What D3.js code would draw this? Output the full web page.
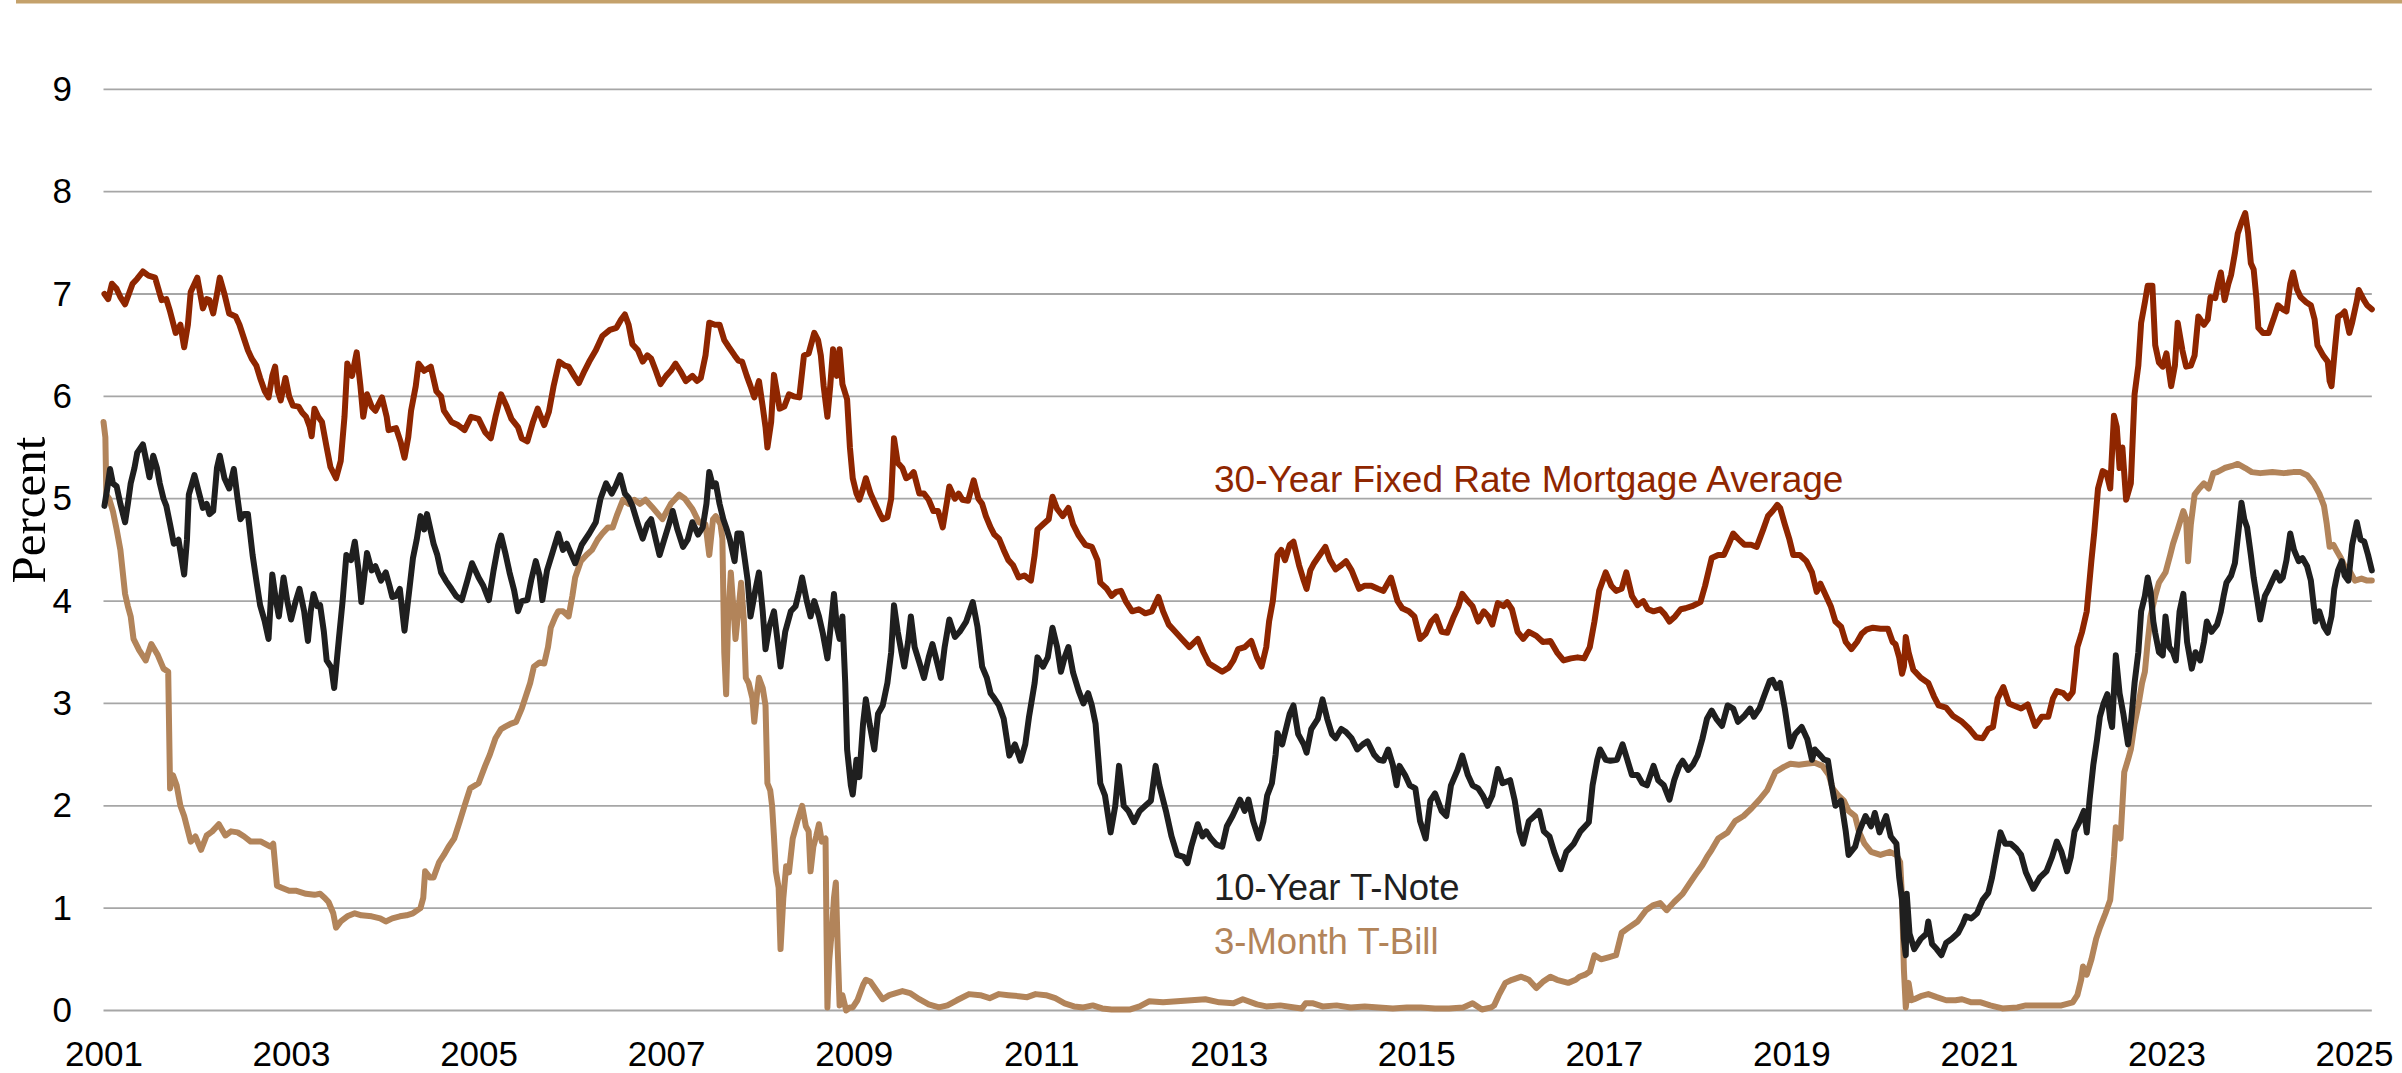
<!DOCTYPE html>
<html>
<head>
<meta charset="utf-8">
<script src="https://cdn.jsdelivr.net/npm/d3@7"></script>
<style>
  html, body { margin: 0; padding: 0; background: #fff; }
  svg { display: block; }
</style>
</head>
<body>
<script>
var width = 2402, height = 1073;

// tick labels
var yTicks = [0, 1, 2, 3, 4, 5, 6, 7, 8, 9];
var xTickYears = [2001, 2003, 2005, 2007, 2009, 2011, 2013, 2015, 2017, 2019, 2021, 2023, 2025];

var seriesNames = ["30-Year Fixed Rate Mortgage Average", "10-Year T-Note", "3-Month T-Bill"];

// [decimal year, percent]
var mortgage = [
  [2001.01,7.0],[2001.05,6.95],[2001.09,7.1],[2001.14,7.05],[2001.18,6.97],[2001.23,6.9],[2001.27,7.0],[2001.31,7.1],
  [2001.36,7.15],[2001.42,7.22],[2001.48,7.18],[2001.55,7.16],[2001.62,6.94],[2001.67,6.95],[2001.71,6.83],[2001.77,6.62],
  [2001.82,6.7],[2001.86,6.48],[2001.9,6.7],[2001.93,7.02],[2002.0,7.16],[2002.06,6.86],[2002.1,6.95],[2002.13,6.94],
  [2002.17,6.81],[2002.21,7.0],[2002.24,7.16],[2002.29,7.0],[2002.34,6.81],[2002.41,6.78],[2002.45,6.7],[2002.5,6.56],
  [2002.54,6.45],[2002.58,6.37],[2002.63,6.3],[2002.67,6.18],[2002.72,6.05],[2002.76,5.99],[2002.8,6.2],[2002.83,6.29],
  [2002.86,6.05],[2002.89,5.96],[2002.94,6.18],[2002.98,6.0],[2003.02,5.91],[2003.08,5.9],[2003.12,5.84],[2003.16,5.8],
  [2003.2,5.7],[2003.22,5.61],[2003.25,5.88],[2003.29,5.8],[2003.33,5.75],[2003.38,5.5],[2003.42,5.31],[2003.48,5.2],
  [2003.53,5.37],[2003.57,5.8],[2003.6,6.32],[2003.65,6.2],[2003.7,6.43],[2003.74,6.1],[2003.77,5.8],[2003.81,6.02],
  [2003.86,5.9],[2003.9,5.86],[2003.97,5.99],[2004.02,5.8],[2004.04,5.67],[2004.12,5.69],[2004.17,5.55],[2004.21,5.4],
  [2004.25,5.6],[2004.28,5.86],[2004.33,6.1],[2004.36,6.32],[2004.42,6.25],[2004.49,6.29],[2004.55,6.05],[2004.6,6.0],
  [2004.63,5.86],[2004.71,5.75],[2004.78,5.72],[2004.85,5.67],[2004.92,5.8],[2005.0,5.78],[2005.07,5.65],[2005.13,5.59],
  [2005.18,5.8],[2005.24,6.02],[2005.3,5.9],[2005.35,5.78],[2005.42,5.7],[2005.46,5.59],[2005.52,5.56],[2005.58,5.75],
  [2005.63,5.88],[2005.7,5.72],[2005.75,5.85],[2005.8,6.1],[2005.86,6.34],[2005.92,6.3],[2005.96,6.29],[2006.02,6.2],
  [2006.07,6.13],[2006.13,6.25],[2006.18,6.34],[2006.25,6.45],[2006.32,6.59],[2006.4,6.65],[2006.47,6.67],[2006.52,6.75],
  [2006.56,6.8],[2006.6,6.7],[2006.64,6.51],[2006.7,6.45],[2006.75,6.34],[2006.8,6.4],[2006.84,6.37],[2006.89,6.25],
  [2006.94,6.12],[2007.0,6.2],[2007.05,6.25],[2007.1,6.32],[2007.15,6.25],[2007.21,6.15],[2007.28,6.2],[2007.33,6.15],
  [2007.37,6.18],[2007.42,6.4],[2007.46,6.72],[2007.52,6.7],[2007.57,6.7],[2007.62,6.55],[2007.67,6.48],[2007.73,6.4],
  [2007.77,6.35],[2007.81,6.34],[2007.86,6.2],[2007.9,6.1],[2007.94,5.99],[2007.99,6.15],[2008.03,5.9],[2008.06,5.7],
  [2008.08,5.5],[2008.12,5.75],[2008.15,6.21],[2008.18,6.05],[2008.21,5.88],[2008.26,5.9],[2008.31,6.02],[2008.36,6.0],
  [2008.42,5.99],[2008.47,6.4],[2008.52,6.42],[2008.58,6.62],[2008.62,6.55],[2008.65,6.4],[2008.68,6.1],[2008.72,5.8],
  [2008.75,6.1],[2008.78,6.46],[2008.82,6.2],[2008.85,6.46],[2008.88,6.12],[2008.93,5.97],[2008.96,5.5],[2008.99,5.2],
  [2009.03,5.05],[2009.06,4.99],[2009.1,5.1],[2009.13,5.2],[2009.18,5.05],[2009.24,4.93],[2009.28,4.85],[2009.31,4.8],
  [2009.36,4.82],[2009.4,5.0],[2009.43,5.59],[2009.47,5.35],[2009.52,5.3],[2009.56,5.2],[2009.6,5.22],[2009.64,5.26],
  [2009.7,5.05],[2009.75,5.05],[2009.8,4.99],[2009.85,4.88],[2009.9,4.88],[2009.95,4.72],[2010.0,5.0],[2010.02,5.12],
  [2010.08,5.0],[2010.12,5.05],[2010.16,4.99],[2010.22,4.98],[2010.28,5.18],[2010.33,5.0],[2010.37,4.95],[2010.41,4.83],
  [2010.46,4.72],[2010.5,4.65],[2010.55,4.61],[2010.6,4.5],[2010.65,4.4],[2010.7,4.35],[2010.76,4.23],[2010.82,4.25],
  [2010.89,4.2],[2010.93,4.45],[2010.96,4.7],[2011.02,4.75],[2011.08,4.8],[2011.12,5.02],[2011.17,4.9],[2011.23,4.83],
  [2011.29,4.91],[2011.34,4.75],[2011.4,4.64],[2011.47,4.55],[2011.54,4.53],[2011.6,4.4],[2011.63,4.18],[2011.7,4.12],
  [2011.75,4.05],[2011.8,4.09],[2011.85,4.1],[2011.9,4.0],[2011.97,3.9],[2012.04,3.92],[2012.11,3.88],[2012.18,3.9],
  [2012.25,4.04],[2012.3,3.9],[2012.36,3.77],[2012.43,3.7],[2012.5,3.63],[2012.58,3.55],[2012.67,3.63],[2012.73,3.5],
  [2012.79,3.39],[2012.86,3.35],[2012.93,3.31],[2013.0,3.35],[2013.05,3.42],[2013.1,3.53],[2013.17,3.55],[2013.24,3.61],
  [2013.3,3.45],[2013.35,3.36],[2013.4,3.55],[2013.43,3.8],[2013.47,4.0],[2013.52,4.45],[2013.56,4.5],[2013.6,4.4],
  [2013.65,4.55],[2013.69,4.58],[2013.75,4.35],[2013.8,4.2],[2013.83,4.12],[2013.87,4.3],[2013.91,4.37],[2013.97,4.45],
  [2014.03,4.53],[2014.08,4.4],[2014.14,4.31],[2014.2,4.35],[2014.25,4.39],[2014.31,4.3],[2014.39,4.12],[2014.45,4.15],
  [2014.52,4.15],[2014.59,4.12],[2014.65,4.1],[2014.73,4.23],[2014.8,4.0],[2014.85,3.93],[2014.92,3.9],[2014.98,3.85],
  [2015.04,3.63],[2015.1,3.68],[2015.16,3.8],[2015.21,3.85],[2015.27,3.7],[2015.33,3.69],[2015.4,3.85],[2015.45,3.95],
  [2015.49,4.07],[2015.55,4.0],[2015.6,3.95],[2015.66,3.8],[2015.72,3.9],[2015.77,3.85],[2015.81,3.77],[2015.87,3.98],
  [2015.93,3.95],[2015.97,3.99],[2016.02,3.92],[2016.08,3.7],[2016.14,3.63],[2016.2,3.7],[2016.28,3.66],[2016.35,3.6],
  [2016.43,3.61],[2016.5,3.5],[2016.57,3.42],[2016.65,3.44],[2016.72,3.45],[2016.79,3.44],[2016.85,3.55],[2016.9,3.8],
  [2016.95,4.1],[2017.02,4.28],[2017.08,4.15],[2017.13,4.1],[2017.19,4.12],[2017.24,4.28],[2017.3,4.05],[2017.36,3.96],
  [2017.42,4.0],[2017.47,3.92],[2017.53,3.9],[2017.6,3.92],[2017.65,3.87],[2017.7,3.8],[2017.76,3.85],[2017.82,3.92],
  [2017.87,3.93],[2017.94,3.95],[2018.03,3.99],[2018.08,4.15],[2018.15,4.42],[2018.22,4.45],[2018.28,4.45],[2018.32,4.53],
  [2018.38,4.66],[2018.43,4.61],[2018.5,4.55],[2018.57,4.55],[2018.63,4.53],[2018.7,4.7],[2018.75,4.83],[2018.8,4.88],
  [2018.85,4.94],[2018.88,4.91],[2018.93,4.75],[2018.98,4.6],[2019.02,4.45],[2019.09,4.45],[2019.16,4.39],[2019.22,4.28],
  [2019.27,4.09],[2019.31,4.17],[2019.36,4.07],[2019.42,3.95],[2019.47,3.8],[2019.53,3.75],[2019.58,3.6],[2019.64,3.53],
  [2019.7,3.6],[2019.75,3.68],[2019.8,3.72],[2019.87,3.74],[2019.95,3.73],[2020.03,3.73],[2020.08,3.6],[2020.11,3.58],
  [2020.15,3.45],[2020.18,3.29],[2020.2,3.36],[2020.22,3.65],[2020.25,3.5],[2020.3,3.33],[2020.38,3.25],[2020.46,3.2],
  [2020.52,3.07],[2020.57,2.98],[2020.65,2.96],[2020.72,2.88],[2020.82,2.82],[2020.9,2.75],[2020.97,2.67],[2021.04,2.66],
  [2021.1,2.75],[2021.15,2.77],[2021.2,3.05],[2021.26,3.16],[2021.32,3.0],[2021.37,2.98],[2021.45,2.95],[2021.52,2.99],
  [2021.6,2.78],[2021.67,2.87],[2021.74,2.87],[2021.79,3.05],[2021.83,3.12],[2021.9,3.1],[2021.95,3.05],[2022.0,3.11],
  [2022.05,3.55],[2022.1,3.7],[2022.15,3.9],[2022.2,4.4],[2022.23,4.67],[2022.27,5.1],[2022.32,5.27],[2022.36,5.25],
  [2022.4,5.1],[2022.44,5.81],[2022.47,5.7],[2022.5,5.3],[2022.53,5.5],[2022.57,4.99],[2022.62,5.15],[2022.66,6.02],
  [2022.7,6.3],[2022.73,6.72],[2022.77,6.92],[2022.8,7.08],[2022.85,7.08],[2022.88,6.5],[2022.92,6.33],[2022.96,6.29],
  [2023.0,6.42],[2023.05,6.1],[2023.09,6.3],[2023.12,6.72],[2023.17,6.45],[2023.21,6.29],[2023.26,6.3],[2023.3,6.4],
  [2023.34,6.78],[2023.4,6.7],[2023.44,6.75],[2023.47,6.97],[2023.52,6.96],[2023.55,7.1],[2023.58,7.21],[2023.62,6.94],
  [2023.66,7.1],[2023.69,7.19],[2023.73,7.4],[2023.76,7.59],[2023.8,7.7],[2023.84,7.79],[2023.87,7.6],[2023.9,7.3],
  [2023.93,7.24],[2023.96,6.95],[2023.98,6.67],[2024.03,6.62],[2024.09,6.62],[2024.14,6.75],[2024.19,6.89],[2024.24,6.85],
  [2024.28,6.83],[2024.32,7.1],[2024.35,7.21],[2024.39,7.05],[2024.43,6.97],[2024.49,6.92],[2024.54,6.89],[2024.58,6.75],
  [2024.61,6.5],[2024.67,6.4],[2024.72,6.34],[2024.74,6.15],[2024.76,6.1],[2024.8,6.5],[2024.83,6.78],[2024.87,6.8],
  [2024.9,6.83],[2024.95,6.62],[2024.98,6.72],[2025.03,6.93],[2025.05,7.04],[2025.1,6.95],[2025.14,6.89],[2025.19,6.85]
];

var tnote = [
  [2001.01,4.93],[2001.04,5.1],[2001.07,5.29],[2001.1,5.15],[2001.14,5.12],[2001.18,4.95],[2001.23,4.77],[2001.26,4.95],
  [2001.29,5.15],[2001.33,5.3],[2001.36,5.45],[2001.42,5.53],[2001.45,5.4],[2001.49,5.21],[2001.53,5.42],[2001.57,5.3],
  [2001.6,5.15],[2001.64,5.0],[2001.67,4.93],[2001.71,4.75],[2001.75,4.56],[2001.8,4.6],[2001.86,4.26],[2001.89,4.6],
  [2001.91,5.04],[2001.97,5.23],[2002.02,5.05],[2002.06,4.91],[2002.1,4.95],[2002.13,4.85],[2002.17,4.88],[2002.21,5.3],
  [2002.24,5.42],[2002.29,5.2],[2002.34,5.1],[2002.39,5.29],[2002.43,5.0],[2002.46,4.8],[2002.5,4.85],[2002.54,4.85],
  [2002.59,4.45],[2002.63,4.2],[2002.67,3.96],[2002.72,3.8],[2002.76,3.63],[2002.8,4.26],[2002.84,4.0],[2002.87,3.85],
  [2002.92,4.23],[2002.96,4.0],[2003.0,3.82],[2003.05,4.0],[2003.09,4.12],[2003.14,3.9],[2003.18,3.61],[2003.21,3.9],
  [2003.24,4.07],[2003.28,3.95],[2003.31,3.96],[2003.35,3.7],[2003.38,3.42],[2003.43,3.35],[2003.46,3.15],[2003.51,3.63],
  [2003.55,4.0],[2003.59,4.45],[2003.64,4.4],[2003.68,4.58],[2003.72,4.3],[2003.75,3.99],[2003.81,4.47],[2003.86,4.3],
  [2003.9,4.34],[2003.96,4.2],[2004.01,4.28],[2004.05,4.15],[2004.08,4.04],[2004.12,4.05],[2004.16,4.12],[2004.21,3.71],
  [2004.26,4.1],[2004.3,4.42],[2004.34,4.6],[2004.38,4.83],[2004.42,4.7],[2004.45,4.85],[2004.52,4.56],[2004.56,4.45],
  [2004.6,4.28],[2004.65,4.2],[2004.71,4.12],[2004.76,4.05],[2004.82,4.01],[2004.88,4.2],[2004.93,4.37],[2005.0,4.23],
  [2005.05,4.15],[2005.11,4.01],[2005.16,4.3],[2005.21,4.55],[2005.24,4.64],[2005.29,4.45],[2005.33,4.28],[2005.38,4.1],
  [2005.42,3.9],[2005.46,4.0],[2005.52,4.01],[2005.56,4.2],[2005.61,4.39],[2005.65,4.25],[2005.68,4.01],[2005.73,4.3],
  [2005.78,4.45],[2005.85,4.66],[2005.9,4.5],[2005.94,4.56],[2006.03,4.37],[2006.1,4.55],[2006.18,4.66],[2006.25,4.77],
  [2006.3,5.0],[2006.36,5.15],[2006.42,5.05],[2006.46,5.12],[2006.51,5.23],[2006.56,5.05],[2006.6,5.01],[2006.64,4.93],
  [2006.7,4.75],[2006.75,4.61],[2006.8,4.75],[2006.84,4.8],[2006.89,4.6],[2006.93,4.45],[2006.98,4.6],[2007.03,4.75],
  [2007.07,4.88],[2007.12,4.7],[2007.18,4.53],[2007.23,4.6],[2007.28,4.77],[2007.34,4.65],[2007.39,4.72],[2007.43,4.95],
  [2007.46,5.26],[2007.5,5.12],[2007.53,5.15],[2007.57,4.95],[2007.61,4.8],[2007.64,4.72],[2007.68,4.6],[2007.73,4.39],
  [2007.76,4.66],[2007.8,4.66],[2007.84,4.4],[2007.87,4.2],[2007.9,3.85],[2007.95,4.1],[2007.99,4.28],[2008.03,3.9],
  [2008.06,3.53],[2008.1,3.75],[2008.15,3.9],[2008.19,3.6],[2008.22,3.36],[2008.27,3.7],[2008.33,3.9],[2008.38,3.95],
  [2008.42,4.1],[2008.45,4.23],[2008.5,4.0],[2008.54,3.85],[2008.58,4.0],[2008.63,3.85],[2008.67,3.69],[2008.72,3.44],
  [2008.76,3.8],[2008.79,4.07],[2008.82,3.75],[2008.85,3.63],[2008.88,3.85],[2008.91,3.2],[2008.93,2.55],[2008.97,2.2],
  [2008.99,2.11],[2009.03,2.45],[2009.06,2.28],[2009.1,2.8],[2009.13,3.04],[2009.17,2.8],[2009.22,2.55],[2009.26,2.9],
  [2009.31,2.98],[2009.36,3.2],[2009.4,3.5],[2009.43,3.96],[2009.47,3.7],[2009.51,3.5],[2009.54,3.36],[2009.58,3.6],
  [2009.61,3.85],[2009.65,3.55],[2009.7,3.4],[2009.75,3.25],[2009.8,3.45],[2009.84,3.58],[2009.89,3.4],[2009.93,3.25],
  [2009.97,3.55],[2010.02,3.82],[2010.08,3.65],[2010.13,3.7],[2010.2,3.8],[2010.27,3.99],[2010.32,3.75],[2010.37,3.36],
  [2010.42,3.25],[2010.46,3.1],[2010.5,3.05],[2010.55,2.98],[2010.6,2.85],[2010.66,2.49],[2010.72,2.6],[2010.78,2.44],
  [2010.83,2.6],[2010.87,2.87],[2010.93,3.2],[2010.96,3.45],[2011.02,3.36],[2011.07,3.45],[2011.12,3.74],[2011.17,3.55],
  [2011.21,3.31],[2011.25,3.45],[2011.29,3.55],[2011.34,3.3],[2011.4,3.12],[2011.45,3.0],[2011.5,3.1],[2011.54,2.98],
  [2011.58,2.8],[2011.63,2.22],[2011.68,2.1],[2011.74,1.74],[2011.79,2.0],[2011.83,2.39],[2011.88,2.0],[2011.93,1.95],
  [2011.99,1.84],[2012.05,1.95],[2012.11,2.0],[2012.17,2.05],[2012.22,2.39],[2012.26,2.2],[2012.33,1.95],[2012.39,1.7],
  [2012.45,1.52],[2012.52,1.5],[2012.56,1.44],[2012.6,1.6],[2012.67,1.82],[2012.72,1.7],[2012.76,1.75],[2012.81,1.68],
  [2012.87,1.62],[2012.93,1.6],[2012.98,1.8],[2013.04,1.9],[2013.12,2.06],[2013.17,1.95],[2013.21,2.06],[2013.26,1.85],
  [2013.32,1.68],[2013.37,1.85],[2013.41,2.1],[2013.46,2.22],[2013.5,2.5],[2013.52,2.71],[2013.57,2.6],[2013.61,2.75],
  [2013.65,2.9],[2013.69,2.98],[2013.74,2.7],[2013.8,2.6],[2013.83,2.52],[2013.88,2.75],[2013.95,2.85],[2014.0,3.04],
  [2014.05,2.85],[2014.1,2.7],[2014.14,2.66],[2014.2,2.75],[2014.25,2.72],[2014.31,2.66],[2014.37,2.55],[2014.43,2.6],
  [2014.48,2.63],[2014.55,2.5],[2014.6,2.45],[2014.65,2.44],[2014.7,2.55],[2014.75,2.4],[2014.79,2.2],[2014.82,2.39],
  [2014.88,2.3],[2014.93,2.2],[2014.99,2.17],[2015.04,1.85],[2015.1,1.68],[2015.15,2.05],[2015.2,2.12],[2015.27,1.95],
  [2015.32,1.9],[2015.37,2.2],[2015.44,2.35],[2015.49,2.49],[2015.55,2.3],[2015.6,2.2],[2015.66,2.17],[2015.71,2.1],
  [2015.76,2.0],[2015.81,2.1],[2015.87,2.36],[2015.92,2.22],[2016.0,2.25],[2016.05,2.05],[2016.1,1.75],[2016.14,1.63],
  [2016.2,1.85],[2016.26,1.9],[2016.31,1.95],[2016.36,1.75],[2016.42,1.7],[2016.47,1.55],[2016.51,1.45],[2016.54,1.38],
  [2016.6,1.55],[2016.68,1.63],[2016.75,1.75],[2016.84,1.84],[2016.88,2.2],[2016.93,2.45],[2016.96,2.55],[2017.02,2.45],
  [2017.07,2.44],[2017.14,2.45],[2017.2,2.6],[2017.25,2.45],[2017.3,2.3],[2017.36,2.3],[2017.41,2.22],[2017.46,2.2],
  [2017.53,2.39],[2017.58,2.25],[2017.64,2.2],[2017.7,2.06],[2017.75,2.25],[2017.8,2.38],[2017.84,2.44],[2017.9,2.35],
  [2017.95,2.4],[2018.0,2.49],[2018.05,2.65],[2018.1,2.85],[2018.15,2.93],[2018.2,2.85],[2018.26,2.78],[2018.32,2.98],
  [2018.38,2.95],[2018.43,2.82],[2018.5,2.88],[2018.56,2.95],[2018.6,2.87],[2018.66,2.95],[2018.72,3.1],[2018.77,3.22],
  [2018.8,3.23],[2018.84,3.15],[2018.88,3.2],[2018.93,2.95],[2018.99,2.58],[2019.04,2.7],[2019.11,2.77],[2019.17,2.65],
  [2019.22,2.45],[2019.25,2.55],[2019.3,2.5],[2019.35,2.45],[2019.39,2.44],[2019.43,2.2],[2019.47,2.0],[2019.53,2.05],
  [2019.58,1.75],[2019.61,1.52],[2019.68,1.6],[2019.72,1.74],[2019.79,1.9],[2019.85,1.8],[2019.89,1.93],[2019.94,1.74],
  [2020.01,1.9],[2020.06,1.7],[2020.12,1.63],[2020.15,1.3],[2020.18,1.08],[2020.2,0.7],[2020.22,0.54],[2020.23,1.14],
  [2020.26,0.75],[2020.31,0.6],[2020.38,0.7],[2020.44,0.75],[2020.46,0.87],[2020.5,0.65],[2020.55,0.6],[2020.6,0.54],
  [2020.65,0.66],[2020.71,0.7],[2020.78,0.76],[2020.83,0.85],[2020.86,0.92],[2020.92,0.9],[2020.98,0.95],[2021.04,1.08],
  [2021.1,1.15],[2021.14,1.3],[2021.18,1.5],[2021.23,1.74],[2021.28,1.63],[2021.34,1.63],[2021.4,1.58],[2021.45,1.52],
  [2021.5,1.35],[2021.55,1.25],[2021.58,1.19],[2021.65,1.3],[2021.72,1.36],[2021.78,1.5],[2021.83,1.65],[2021.88,1.55],
  [2021.94,1.36],[2021.98,1.5],[2022.02,1.75],[2022.07,1.84],[2022.12,1.95],[2022.15,1.74],[2022.18,2.06],[2022.22,2.4],
  [2022.26,2.65],[2022.29,2.87],[2022.33,3.0],[2022.37,3.09],[2022.4,2.85],[2022.42,2.77],[2022.46,3.47],[2022.5,3.1],
  [2022.54,2.9],[2022.59,2.6],[2022.62,2.8],[2022.66,3.2],[2022.7,3.5],[2022.73,3.9],[2022.77,4.05],[2022.8,4.23],
  [2022.83,4.1],[2022.86,3.8],[2022.88,3.69],[2022.92,3.5],[2022.96,3.47],[2022.99,3.85],[2023.03,3.55],[2023.07,3.5],
  [2023.1,3.42],[2023.14,3.9],[2023.18,4.07],[2023.22,3.6],[2023.27,3.34],[2023.31,3.5],[2023.36,3.42],[2023.4,3.6],
  [2023.43,3.8],[2023.48,3.7],[2023.54,3.77],[2023.58,3.9],[2023.61,4.05],[2023.64,4.18],[2023.69,4.25],[2023.73,4.37],
  [2023.77,4.7],[2023.8,4.96],[2023.83,4.8],[2023.86,4.72],[2023.9,4.45],[2023.93,4.23],[2023.97,4.0],[2024.0,3.82],
  [2024.05,4.05],[2024.09,4.12],[2024.13,4.2],[2024.17,4.28],[2024.21,4.2],[2024.24,4.23],[2024.28,4.4],[2024.32,4.66],
  [2024.36,4.5],[2024.41,4.39],[2024.45,4.42],[2024.5,4.34],[2024.54,4.2],[2024.59,3.8],[2024.63,3.9],[2024.68,3.75],
  [2024.72,3.69],[2024.76,3.85],[2024.79,4.12],[2024.83,4.3],[2024.87,4.39],[2024.9,4.25],[2024.94,4.2],[2024.98,4.55],
  [2025.03,4.77],[2025.07,4.6],[2025.11,4.58],[2025.15,4.45],[2025.19,4.3]
];

var tbill = [
  [2001.0,5.75],[2001.02,5.6],[2001.03,5.04],[2001.06,5.0],[2001.1,4.88],[2001.14,4.7],[2001.18,4.5],[2001.23,4.07],
  [2001.26,3.95],[2001.29,3.85],[2001.32,3.63],[2001.38,3.52],[2001.45,3.42],[2001.51,3.58],[2001.58,3.47],[2001.64,3.34],
  [2001.69,3.31],[2001.71,2.17],[2001.74,2.3],[2001.78,2.2],[2001.82,2.0],[2001.86,1.9],[2001.93,1.65],[2001.98,1.7],
  [2002.04,1.57],[2002.1,1.71],[2002.16,1.75],[2002.23,1.82],[2002.3,1.71],[2002.36,1.75],[2002.43,1.74],[2002.5,1.7],
  [2002.57,1.65],[2002.68,1.65],[2002.78,1.6],[2002.81,1.63],[2002.85,1.22],[2002.9,1.2],[2002.98,1.17],[2003.05,1.17],
  [2003.16,1.14],[2003.25,1.13],[2003.31,1.14],[2003.36,1.1],[2003.4,1.06],[2003.45,0.95],[2003.48,0.81],[2003.53,0.87],
  [2003.6,0.92],[2003.68,0.95],[2003.75,0.93],[2003.86,0.92],[2003.95,0.9],[2004.01,0.87],[2004.08,0.9],[2004.16,0.92],
  [2004.23,0.93],[2004.3,0.95],[2004.38,1.0],[2004.41,1.1],[2004.43,1.36],[2004.48,1.3],[2004.52,1.3],[2004.58,1.45],
  [2004.63,1.52],[2004.68,1.6],[2004.74,1.68],[2004.8,1.85],[2004.85,2.0],[2004.91,2.17],[2005.0,2.22],[2005.07,2.39],
  [2005.12,2.5],[2005.18,2.66],[2005.24,2.75],[2005.28,2.77],[2005.34,2.8],[2005.4,2.82],[2005.46,2.95],[2005.5,3.06],
  [2005.55,3.2],[2005.59,3.36],[2005.65,3.4],[2005.7,3.39],[2005.74,3.55],[2005.77,3.74],[2005.82,3.85],[2005.85,3.9],
  [2005.9,3.9],[2005.96,3.85],[2006.0,4.05],[2006.03,4.23],[2006.09,4.39],[2006.15,4.45],[2006.21,4.5],[2006.27,4.6],
  [2006.32,4.66],[2006.38,4.72],[2006.43,4.72],[2006.48,4.85],[2006.54,4.99],[2006.6,4.95],[2006.66,4.99],[2006.72,4.95],
  [2006.78,4.99],[2006.85,4.92],[2006.96,4.8],[2007.05,4.95],[2007.14,5.04],[2007.2,5.0],[2007.28,4.9],[2007.35,4.77],
  [2007.42,4.75],[2007.46,4.45],[2007.5,4.8],[2007.53,4.83],[2007.58,4.75],[2007.6,4.61],[2007.62,3.5],[2007.64,3.09],
  [2007.66,3.8],[2007.69,4.28],[2007.72,3.9],[2007.74,3.63],[2007.77,3.9],[2007.8,4.18],[2007.83,3.8],[2007.85,3.25],
  [2007.88,3.2],[2007.92,3.05],[2007.94,2.82],[2007.97,3.1],[2007.99,3.25],[2008.03,3.15],[2008.06,2.98],[2008.08,2.22],
  [2008.11,2.15],[2008.13,2.0],[2008.15,1.7],[2008.17,1.36],[2008.2,1.2],[2008.22,0.6],[2008.25,1.1],[2008.28,1.41],
  [2008.31,1.35],[2008.35,1.68],[2008.4,1.85],[2008.45,2.0],[2008.49,1.8],[2008.52,1.75],[2008.54,1.36],[2008.57,1.6],
  [2008.6,1.7],[2008.63,1.82],[2008.66,1.65],[2008.7,1.68],[2008.71,0.8],[2008.72,0.03],[2008.74,0.5],[2008.77,0.81],
  [2008.79,1.1],[2008.81,1.25],[2008.83,0.6],[2008.85,0.05],[2008.88,0.15],[2008.92,0.0],[2008.96,0.03],[2008.99,0.03],
  [2009.04,0.1],[2009.1,0.25],[2009.13,0.3],[2009.18,0.28],[2009.24,0.2],[2009.31,0.11],[2009.38,0.15],[2009.45,0.17],
  [2009.52,0.19],[2009.6,0.17],[2009.7,0.11],[2009.8,0.06],[2009.91,0.03],[2010.0,0.05],[2010.1,0.1],[2010.23,0.16],
  [2010.35,0.15],[2010.45,0.12],[2010.55,0.16],[2010.65,0.15],[2010.76,0.14],[2010.85,0.13],[2010.94,0.16],[2011.05,0.15],
  [2011.15,0.12],[2011.25,0.07],[2011.35,0.04],[2011.45,0.03],[2011.55,0.05],[2011.65,0.02],[2011.75,0.01],[2011.85,0.01],
  [2011.95,0.01],[2012.05,0.04],[2012.15,0.09],[2012.3,0.08],[2012.45,0.09],[2012.6,0.1],[2012.75,0.11],[2012.9,0.08],
  [2013.05,0.07],[2013.15,0.11],[2013.3,0.06],[2013.4,0.04],[2013.55,0.05],[2013.7,0.03],[2013.78,0.02],[2013.82,0.07],
  [2013.9,0.07],[2014.0,0.04],[2014.15,0.05],[2014.3,0.03],[2014.45,0.04],[2014.6,0.03],[2014.75,0.02],[2014.9,0.03],
  [2015.05,0.03],[2015.2,0.02],[2015.35,0.02],[2015.5,0.03],[2015.6,0.07],[2015.7,0.01],[2015.8,0.03],[2015.83,0.05],
  [2015.88,0.15],[2015.95,0.27],[2016.02,0.3],[2016.12,0.33],[2016.2,0.3],[2016.28,0.22],[2016.35,0.28],[2016.43,0.33],
  [2016.5,0.3],[2016.62,0.27],[2016.7,0.3],[2016.74,0.33],[2016.8,0.35],[2016.85,0.38],[2016.9,0.54],[2016.97,0.5],
  [2017.05,0.52],[2017.13,0.54],[2017.19,0.76],[2017.25,0.8],[2017.36,0.87],[2017.45,0.98],[2017.53,1.03],[2017.6,1.05],
  [2017.67,0.98],[2017.75,1.06],[2017.84,1.14],[2017.92,1.25],[2017.98,1.33],[2018.05,1.42],[2018.1,1.5],[2018.15,1.57],
  [2018.22,1.68],[2018.32,1.74],[2018.4,1.85],[2018.49,1.9],[2018.58,1.98],[2018.66,2.06],[2018.74,2.15],[2018.83,2.33],
  [2018.92,2.38],[2018.99,2.41],[2019.08,2.4],[2019.16,2.41],[2019.25,2.42],[2019.33,2.39],[2019.4,2.3],[2019.44,2.17],
  [2019.5,2.1],[2019.56,2.05],[2019.61,1.95],[2019.68,1.9],[2019.72,1.75],[2019.78,1.63],[2019.85,1.55],[2019.95,1.52],
  [2020.05,1.55],[2020.12,1.52],[2020.16,1.45],[2020.18,1.1],[2020.2,0.4],[2020.22,0.03],[2020.25,0.27],[2020.28,0.1],
  [2020.31,0.11],[2020.38,0.14],[2020.46,0.16],[2020.55,0.13],[2020.65,0.1],[2020.75,0.1],[2020.82,0.11],[2020.92,0.08],
  [2021.02,0.08],[2021.12,0.05],[2021.25,0.02],[2021.41,0.03],[2021.5,0.05],[2021.63,0.05],[2021.75,0.05],[2021.88,0.05],
  [2022.0,0.08],[2022.05,0.15],[2022.09,0.3],[2022.11,0.43],[2022.15,0.35],[2022.2,0.5],[2022.25,0.7],[2022.29,0.81],
  [2022.35,0.95],[2022.4,1.08],[2022.44,1.5],[2022.46,1.79],[2022.51,1.68],[2022.55,2.33],[2022.59,2.45],[2022.62,2.55],
  [2022.66,2.8],[2022.7,2.98],[2022.74,3.2],[2022.77,3.31],[2022.8,3.6],[2022.83,3.85],[2022.88,4.05],[2022.92,4.18],
  [2022.99,4.28],[2023.04,4.45],[2023.07,4.56],[2023.12,4.7],[2023.18,4.88],[2023.21,4.8],[2023.23,4.39],[2023.26,4.75],
  [2023.3,5.04],[2023.35,5.1],[2023.4,5.15],[2023.45,5.1],[2023.5,5.25],[2023.54,5.26],[2023.62,5.3],[2023.7,5.32],
  [2023.76,5.34],[2023.84,5.3],[2023.91,5.26],[2024.0,5.25],[2024.13,5.26],[2024.25,5.25],[2024.35,5.26],[2024.43,5.26],
  [2024.5,5.23],[2024.57,5.15],[2024.63,5.05],[2024.68,4.93],[2024.71,4.75],[2024.74,4.53],[2024.78,4.55],[2024.81,4.5],
  [2024.86,4.42],[2024.9,4.34],[2024.95,4.3],[2025.01,4.2],[2025.08,4.22],[2025.14,4.2],[2025.19,4.2]
];

var colors = { mortgage: "#8f2600", tnote: "#1f1f1f", tbill: "#b2845a" };

var svg = d3.select("body").append("svg")
    .attr("width", width)
    .attr("height", height);

// gold rule across the top
svg.append("rect")
    .attr("x", 16).attr("y", 0)
    .attr("width", width - 16).attr("height", 3.5)
    .attr("fill", "#c4a16b");

var x = d3.scaleLinear().domain([2001, 2025]).range([103.5, 2354]);
var y = d3.scaleLinear().domain([0, 9]).range([1010.5, 89.3]);
var xEnd = x(2025.19);

// gridlines
svg.append("g")
  .selectAll("line")
  .data(yTicks)
  .join("line")
    .attr("x1", x(2001))
    .attr("x2", xEnd)
    .attr("y1", d => y(d))
    .attr("y2", d => y(d))
    .attr("stroke", "#a6a6a6")
    .attr("stroke-width", 1.8);

// y axis labels
var yAxis = svg.append("g")
    .attr("transform", "translate(72,0)")
    .call(d3.axisLeft(y).tickValues(yTicks).tickSize(0).tickPadding(0).tickFormat(d3.format("d")));
yAxis.select(".domain").remove();
yAxis.selectAll("text")
    .attr("font-family", "'Liberation Sans', Arial, sans-serif")
    .attr("font-size", 35)
    .attr("fill", "#000");

// x axis labels
var xAxis = svg.append("g")
    .attr("transform", "translate(0,1041)")
    .call(d3.axisBottom(x).tickValues(xTickYears).tickSize(0).tickPadding(0).tickFormat(d3.format("d")));
xAxis.select(".domain").remove();
xAxis.selectAll("text")
    .attr("font-family", "'Liberation Sans', Arial, sans-serif")
    .attr("font-size", 35)
    .attr("dy", "0.72em")
    .attr("fill", "#000");

// y title
svg.append("text")
    .attr("transform", "translate(45,510) rotate(-90)")
    .attr("text-anchor", "middle")
    .attr("font-family", "'Liberation Serif', 'Times New Roman', serif")
    .attr("font-size", 49)
    .attr("fill", "#000")
    .text("Percent");

var line = d3.line()
    .x(d => x(d[0]))
    .y(d => y(d[1]))
    .curve(d3.curveLinear);

// drawn bottom to top: T-bill, T-note, mortgage
[[tbill, colors.tbill], [tnote, colors.tnote], [mortgage, colors.mortgage]].forEach(s => {
  svg.append("path")
      .datum(s[0])
      .attr("fill", "none")
      .attr("stroke", s[1])
      .attr("stroke-width", 6)
      .attr("stroke-linejoin", "round")
      .attr("stroke-linecap", "round")
      .attr("d", line);
});

// series labels
var labels = [
  {text: seriesNames[0], y: 492, color: colors.mortgage, size: 37},
  {text: seriesNames[1], y: 900, color: colors.tnote, size: 36.5},
  {text: seriesNames[2], y: 954, color: colors.tbill, size: 36.5}
];
svg.append("g")
  .selectAll("text")
  .data(labels)
  .join("text")
    .attr("x", 1214)
    .attr("y", d => d.y)
    .attr("font-family", "'Liberation Sans', Arial, sans-serif")
    .attr("font-size", d => d.size)
    .attr("fill", d => d.color)
    .text(d => d.text);
</script>
</body>
</html>
